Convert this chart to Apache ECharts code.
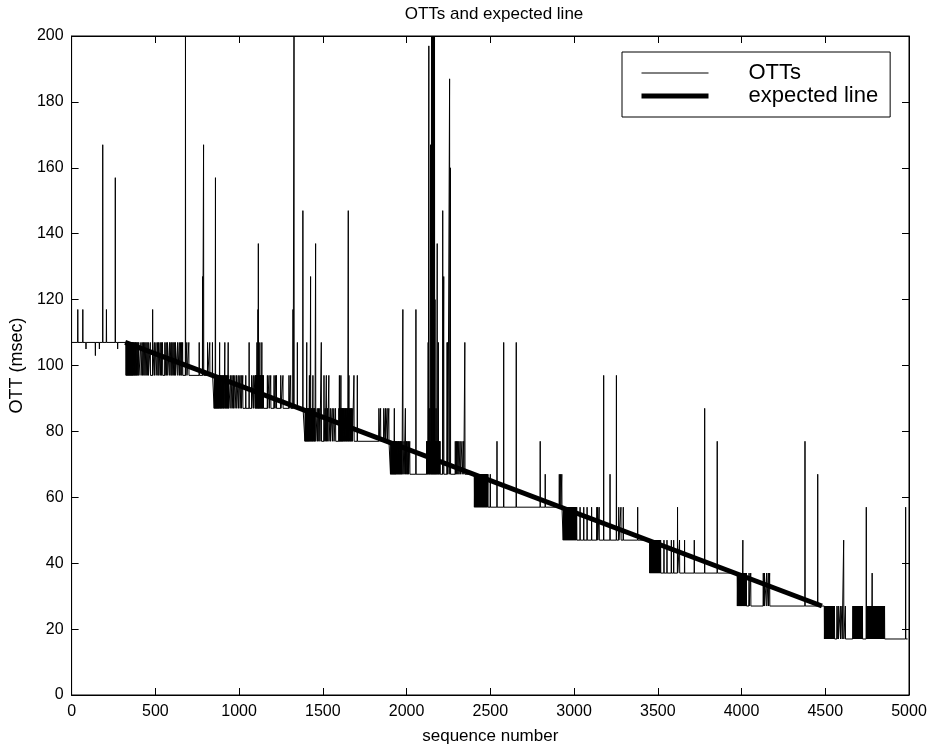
<!DOCTYPE html>
<html>
<head>
<meta charset="utf-8">
<title>OTTs and expected line</title>
<script src="https://cdn.jsdelivr.net/npm/echarts@6.0.0/dist/echarts.min.js"></script>
<style>
  html, body { margin: 0; padding: 0; background: #fff; }
  #chart { width: 935px; height: 750px; }
</style>
</head>
<body>
<div id="chart"></div>
<script>
// baseline OTT steps: where each level begins (sequence number) and its value (msec)
const levelStart = [0, 325, 851, 1393, 1904, 2405, 2935, 3452, 3975, 4495];
const levelOtt = [107, 97, 87, 77, 67, 57, 47, 37, 27, 17];
const lastSeq = 4992;

// samples that leave the baseline, [sequence number, OTT]
const samples107 = [
    [37, 117], [67, 117], [86, 105], [142, 103], [166, 105], [186, 167], [208, 117], [261, 157], [275, 105]
];
const samples97 = [
    [327, 107], [330, 107], [333, 107], [336, 107], [339, 107], [342, 107], [345, 107], [348, 107], [351, 107],
    [354, 107], [357, 107], [360, 107], [363, 107], [366, 107], [370, 107], [374, 107], [378, 107], [382, 107],
    [386, 107], [391, 107], [396, 107], [401, 107],
    [414, 107], [422, 107], [430, 107], [437, 107], [444, 107], [451, 107], [458, 107], [470, 107], [484, 117],
    [494, 107], [504, 107], [514, 107], [520, 107], [529, 107], [536, 107], [543, 107], [557, 107], [565, 107],
    [573, 107], [585, 107], [593, 107], [599, 107], [606, 107], [613, 107], [620, 107], [633, 107], [643, 107],
    [651, 107], [657, 107], [663, 107], [680, 200], [688, 107], [700, 107], [762, 107], [782, 127], [788, 167],
    [812, 107], [825, 107], [841, 107]
];
const samples87 = [
    [853, 97], [856, 97], [859, 157], [862, 97], [865, 97], [868, 97], [871, 97], [874, 97], [877, 97], [880, 97],
    [884, 107], [887, 97], [890, 97], [894, 97], [898, 97], [902, 97], [906, 97], [910, 97], [915, 107], [919, 97],
    [923, 97], [927, 97], [931, 97], [935, 107], [938, 97],
    [950, 97], [958, 97], [966, 97], [975, 97], [985, 97], [995, 97], [1005, 97], [1013, 97], [1022, 97], [1040, 97],
    [1060, 107], [1075, 97], [1085, 97],
    [1095, 97], [1098, 97], [1101, 97], [1104, 97], [1107, 107], [1110, 97], [1113, 117], [1115, 137], [1118, 97],
    [1121, 97], [1124, 107], [1127, 97], [1130, 97], [1133, 97], [1136, 107], [1139, 97], [1142, 97], [1145, 97],
    [1169, 97], [1179, 97], [1189, 97], [1209, 97], [1219, 97], [1223, 97], [1249, 97], [1262, 97], [1298, 97],
    [1308, 97], [1322, 117], [1328, 200], [1348, 107], [1381, 147]
];
const samples77 = [
    [1395, 87], [1398, 87], [1401, 87], [1404, 107], [1407, 87], [1410, 87], [1413, 87], [1416, 87], [1420, 97],
    [1423, 87], [1427, 127], [1430, 87], [1434, 87], [1437, 87], [1441, 97], [1445, 87], [1449, 87], [1452, 87],
    [1457, 137],
    [1467, 87], [1475, 87], [1482, 87], [1491, 107], [1507, 97], [1514, 87], [1521, 97], [1528, 87], [1536, 97],
    [1545, 87], [1556, 87], [1566, 87], [1576, 87],
    [1596, 87], [1599, 97], [1602, 87], [1605, 87], [1608, 97], [1611, 87], [1614, 87], [1617, 87], [1620, 87],
    [1624, 87], [1628, 87], [1632, 87], [1636, 87], [1640, 87], [1644, 87], [1648, 87], [1652, 147], [1656, 97],
    [1660, 87], [1664, 87], [1668, 87], [1672, 87], [1676, 87],
    [1686, 97], [1706, 97], [1835, 87], [1845, 87], [1864, 87], [1874, 87], [1884, 87], [1894, 87]
];
const samples67 = [
    [1906, 77], [1909, 77], [1912, 77], [1915, 77], [1918, 77], [1921, 77], [1924, 77], [1927, 87], [1930, 77],
    [1933, 77], [1936, 77], [1940, 77], [1944, 77], [1948, 77], [1952, 77], [1956, 77], [1960, 77], [1964, 77],
    [1968, 77], [1972, 77],
    [1978, 117], [1985, 77], [1993, 87], [2000, 77], [2004, 77], [2011, 77], [2019, 77], [2056, 117],
    [2120, 77], [2123, 77], [2126, 77], [2129, 107], [2133, 197], [2136, 77], [2139, 87], [2143, 167], [2146, 77],
    [2149, 200], [2152, 140], [2155, 200], [2158, 77], [2161, 200], [2164, 200], [2167, 200], [2170, 120],
    [2173, 77], [2176, 87], [2179, 77], [2183, 137], [2186, 77], [2190, 107], [2193, 77], [2197, 77], [2200, 77],
    [2216, 147], [2222, 127], [2242, 107], [2246, 107], [2257, 187], [2262, 160], [2291, 77], [2298, 77],
    [2305, 77], [2312, 77], [2320, 77], [2331, 77], [2341, 77], [2348, 107]
];
const samples57 = [
    [2407, 67], [2410, 67], [2413, 67], [2416, 67], [2419, 67], [2422, 67], [2425, 67], [2428, 67], [2431, 67],
    [2434, 67], [2437, 67], [2440, 67], [2443, 67], [2446, 67], [2449, 67], [2452, 67], [2455, 67], [2458, 67],
    [2461, 67], [2464, 67], [2467, 67], [2470, 67], [2473, 67], [2476, 67], [2479, 67], [2482, 67], [2486, 67],
    [2500, 67], [2540, 77], [2580, 107], [2655, 107], [2798, 77], [2828, 67], [2912, 67], [2920, 67], [2927, 67]
];
const samples47 = [
    [2937, 57], [2940, 57], [2943, 57], [2946, 57], [2949, 57], [2952, 57], [2955, 57], [2958, 57], [2961, 57],
    [2964, 57], [2967, 57], [2970, 57], [2973, 57], [2976, 57], [2979, 57], [2982, 57], [2985, 57], [2988, 57],
    [2991, 57], [2994, 57], [2997, 57], [3000, 57], [3003, 57], [3006, 57], [3009, 57], [3012, 57], [3016, 57],
    [3036, 57], [3058, 57], [3078, 57], [3105, 57], [3136, 57], [3141, 57], [3150, 57], [3177, 97], [3215, 67],
    [3253, 97], [3267, 57], [3280, 57], [3294, 57], [3380, 57]
];
const samples37 = [
    [3454, 47], [3457, 47], [3460, 47], [3463, 47], [3466, 47], [3469, 47], [3472, 47], [3475, 47], [3478, 47],
    [3481, 47], [3484, 47], [3487, 47], [3490, 47], [3493, 47], [3496, 47], [3499, 47], [3502, 47], [3505, 47],
    [3508, 47], [3511, 47], [3514, 47], [3517, 47],
    [3537, 47], [3555, 47], [3581, 47], [3595, 47], [3618, 57], [3630, 47], [3660, 47], [3718, 47], [3780, 87],
    [3855, 77]
];
const samples27 = [
    [3977, 37], [3980, 37], [3983, 37], [3986, 37], [3989, 37], [3992, 37], [3995, 37], [3998, 37], [4001, 37],
    [4004, 37], [4008, 47], [4011, 37], [4014, 37], [4017, 37], [4020, 37], [4023, 37], [4026, 37], [4029, 37],
    [4045, 37], [4055, 37], [4130, 37], [4137, 37], [4150, 37], [4160, 37], [4168, 37], [4379, 77], [4455, 67]
];
const samples17 = [
    [4497, 27], [4500, 27], [4503, 27], [4506, 27], [4509, 27], [4512, 27], [4515, 27], [4518, 27], [4521, 27],
    [4524, 27], [4527, 27], [4530, 27], [4533, 27], [4536, 27], [4539, 27], [4542, 27], [4545, 27], [4548, 27],
    [4551, 27], [4555, 27],
    [4570, 27], [4578, 27], [4590, 27], [4600, 27], [4610, 47], [4620, 27],
    [4665, 27], [4668, 27], [4671, 27], [4674, 27], [4677, 27], [4680, 27], [4683, 27], [4686, 27], [4689, 27],
    [4692, 27], [4695, 27], [4698, 27], [4701, 27], [4704, 27], [4707, 27], [4710, 27], [4713, 27], [4716, 27],
    [4719, 27], [4722, 27],
    [4745, 57],
    [4748, 27], [4751, 27], [4754, 27], [4757, 27], [4762, 27], [4765, 27], [4768, 27], [4771, 27], [4774, 27],
    [4777, 27], [4780, 37], [4783, 27], [4786, 27], [4789, 27], [4792, 27], [4795, 27], [4798, 27], [4801, 27],
    [4804, 27], [4807, 27], [4810, 27], [4813, 27], [4816, 27], [4819, 27], [4822, 27], [4825, 27], [4828, 27],
    [4831, 27], [4834, 27], [4837, 27], [4840, 27], [4843, 27], [4846, 27], [4850, 27], [4854, 27],
    [4980, 57]
];

// fitted line, end points
const expectedSeq = [320, 4480];
const expectedOtt = [107, 27];

const xTicks = [0, 500, 1000, 1500, 2000, 2500, 3000, 3500, 4000, 4500, 5000];
const yTicks = [0, 20, 40, 60, 80, 100, 120, 140, 160, 180, 200];

function baseAt(seq) {
    let v = levelOtt[0];
    for (let i = 0; i < levelStart.length; i++) {
        if (seq >= levelStart[i]) v = levelOtt[i];
    }
    return v;
}

// one point per sequence number that matters: samples, their neighbours, and step edges
function build_ott_series() {
    const all = [].concat(samples107, samples97, samples87, samples77, samples67,
        samples57, samples47, samples37, samples27, samples17);
    const known = new Map();
    all.forEach(s => known.set(s[0], s[1]));
    const keys = new Set([0, lastSeq]);
    levelStart.forEach(s => { if (s > 0) { keys.add(s - 1); keys.add(s); } });
    all.forEach(s => { keys.add(s[0] - 1); keys.add(s[0]); keys.add(s[0] + 1); });
    return Array.from(keys).sort((a, b) => a - b)
        .map(seq => [seq, known.has(seq) ? known.get(seq) : baseAt(seq)]);
}

const font = 'Liberation Sans, Arial, Helvetica, sans-serif';
const myChart = echarts.init(document.getElementById('chart'), null, {renderer: 'canvas'});

function axis_common() {
    return {
        type: 'value',
        axisLine: {show: true, onZero: false, lineStyle: {color: '#000', width: 1}},
        axisTick: {show: true, inside: true, length: 7, lineStyle: {color: '#000'}},
        splitLine: {show: false}
    };
}

const option = {
    animation: false,
    backgroundColor: '#fff',
    title: {
        text: 'OTTs and expected line',
        left: 489,
        top: 1,
        textAlign: 'center',
        textStyle: {fontFamily: font, fontSize: 17, fontWeight: 'normal', color: '#000'}
    },
    grid: {left: 70, right: 26, top: 36, bottom: 53, show: true, borderColor: '#000', borderWidth: 1},
    legend: {
        orient: 'vertical',
        left: 622,
        top: 52,
        padding: [10, 12, 10, 17],
        itemWidth: 67,
        itemHeight: 10,
        itemGap: 1,
        backgroundColor: '#fff',
        borderColor: '#000',
        borderWidth: 1,
        itemStyle: {opacity: 0},
        textStyle: {fontFamily: font, fontSize: 22, color: '#000', padding: [0, 0, 0, 35]},
        data: [
            {name: 'OTTs', itemStyle: {opacity: 0}, lineStyle: {width: 1, color: '#000'}},
            {name: 'expected line', itemStyle: {opacity: 0}, lineStyle: {width: 5, color: '#000'}}
        ]
    },
    xAxis: [
        Object.assign(axis_common(), {
            position: 'bottom', min: xTicks[0], max: xTicks[xTicks.length - 1], interval: 500,
            name: 'sequence number', nameLocation: 'middle', nameGap: 33,
            nameTextStyle: {fontFamily: font, fontSize: 17, color: '#000'},
            axisLabel: {fontFamily: font, fontSize: 16, color: '#000', margin: 9, formatter: v => String(v)}
        }),
        Object.assign(axis_common(), {
            position: 'top', min: xTicks[0], max: xTicks[xTicks.length - 1], interval: 500,
            axisLabel: {show: false}
        })
    ],
    yAxis: [
        Object.assign(axis_common(), {
            position: 'left', min: yTicks[0], max: yTicks[yTicks.length - 1], interval: 20,
            name: 'OTT (msec)', nameLocation: 'middle', nameGap: 45, nameRotate: 90,
            nameTextStyle: {fontFamily: font, fontSize: 18, color: '#000'},
            axisLabel: {fontFamily: font, fontSize: 16, color: '#000', margin: 8, formatter: v => String(v)}
        }),
        Object.assign(axis_common(), {
            position: 'right', min: yTicks[0], max: yTicks[yTicks.length - 1], interval: 20,
            axisLabel: {show: false}
        })
    ],
    series: [
        {
            name: 'OTTs',
            type: 'line',
            xAxisIndex: 0,
            yAxisIndex: 0,
            data: build_ott_series(),
            symbol: 'none',
            showSymbol: false,
            lineStyle: {color: '#000', width: 1},
            itemStyle: {color: '#000'},
            z: 2
        },
        {
            name: 'expected line',
            type: 'line',
            xAxisIndex: 0,
            yAxisIndex: 0,
            data: expectedSeq.map((s, i) => [s, expectedOtt[i]]),
            symbol: 'none',
            showSymbol: false,
            lineStyle: {color: '#000', width: 5, cap: 'butt'},
            itemStyle: {color: '#000'},
            z: 3
        }
    ]
};

myChart.setOption(option);
</script>
</body>
</html>
